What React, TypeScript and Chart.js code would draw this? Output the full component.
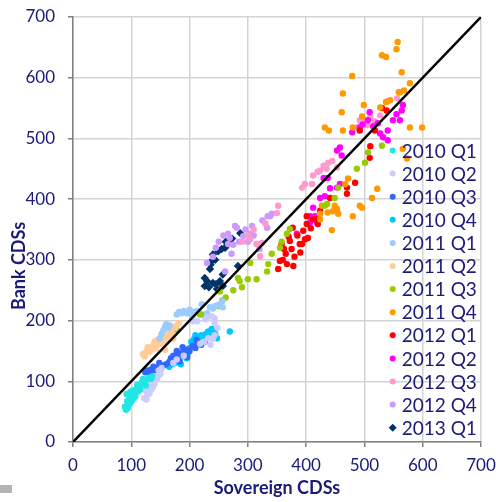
import React, { useEffect, useRef } from "react";
import { Chart, registerables } from "chart.js";

Chart.register(...registerables);

type P = [number, number];

const seriesNames: string[] = [
  "2010 Q1", "2010 Q2", "2010 Q3", "2010 Q4", "2011 Q1", "2011 Q2", "2011 Q3",
  "2011 Q4", "2012 Q1", "2012 Q2", "2012 Q3", "2012 Q4", "2013 Q1",
];

const seriesColors: string[] = [
  "#22e6e6", "#ccccff", "#3366ff", "#00c8ff", "#99ccff", "#ffcc99", "#99cc00",
  "#ff9900", "#ff0000", "#ff00ff", "#ff99cc", "#cc99ff", "#003366",
];

const q2010_1: P[] = [[89,58],[91,53],[94,56],[96,62],[93,67],[98,64],[101,68],[97,74],[100,78],[104,72],[106,80],[103,85],[108,86],[111,83],[113,90],[110,94],[116,92],[118,98],[121,95],[124,100],[120,104],[127,103],[130,106],[134,104],[136,108],[115,86],[107,75],[99,83],[92,79],[125,93]];
const q2010_2: P[] = [[122,72],[126,70],[128,78],[125,84],[131,80],[134,86],[130,92],[137,90],[140,96],[135,98],[144,104],[146,109],[150,112],[147,118],[152,122],[178,136],[172,130],[190,142],[218,162],[225,165],[232,171],[236,160],[240,170],[243,176],[213,199],[227,202],[230,205],[238,207],[243,204],[243,196],[206,199],[248,188]];
const q2010_3: P[] = [[124,115],[128,118],[132,114],[135,120],[140,118],[138,124],[145,122],[150,120],[155,126],[148,130],[160,128],[165,132],[170,130],[168,138],[175,136],[172,142],[180,140],[185,146],[178,150],[190,148],[195,152],[188,156],[200,150],[205,158],[210,155],[215,162],[212,168],[220,160],[226,165],[196,140],[183,133]];
const q2010_4: P[] = [[165,124],[170,128],[168,133],[175,130],[178,138],[182,135],[186,142],[180,146],[190,145],[194,150],[198,148],[200,155],[205,158],[203,165],[208,170],[212,166],[216,172],[220,176],[224,174],[228,178],[232,182],[236,180],[240,184],[244,178],[238,186],[247,171],[269,182],[210,176],[195,138],[185,128]];
const q2011_1: P[] = [[149,171],[152,178],[155,184],[158,190],[160,194],[163,188],[166,192],[178,210],[182,214],[186,212],[190,216],[195,212],[200,218],[204,207],[208,214],[213,216],[221,227],[235,222],[240,220],[244,224],[250,226],[256,232],[257,222],[230,212]];
const q2011_2: P[] = [[120,145],[123,141],[126,150],[130,148],[134,152],[128,156],[137,158],[142,154],[146,160],[150,162],[145,168],[155,166],[160,170],[152,175],[163,176],[166,180],[170,178],[168,186],[175,188],[178,192],[182,196],[172,170],[158,152],[140,165]];
const q2011_3: P[] = [[178,185],[175,188],[218,210],[221,210],[249,224],[256,233],[252,248],[275,250],[283,270],[286,265],[300,268],[315,268],[304,295],[333,281],[335,293],[341,310],[355,320],[358,330],[367,343],[372,351],[432,389],[436,392],[449,402],[455,419],[487,450],[501,460],[506,477],[530,488],[262,238],[290,255]];
const q2011_4: P[] = [[492,389],[480,372],[444,349],[437,378],[446,380],[455,376],[424,367],[424,376],[449,389],[453,384],[496,386],[557,659],[555,647],[530,637],[537,634],[564,609],[578,591],[568,579],[559,576],[539,561],[479,603],[463,574],[461,543],[432,518],[439,513],[463,513],[480,518],[496,536],[499,555],[527,551],[537,560],[544,563],[561,576],[599,518],[578,518],[566,483],[573,467],[522,417],[513,402],[467,425],[472,434],[427,389]];
const q2012_1: P[] = [[352,285],[367,293],[358,326],[372,331],[389,326],[377,353],[401,359],[420,367],[401,372],[412,367],[424,381],[420,359],[398,334],[403,336],[393,326],[530,550],[538,546],[518,513],[492,513],[510,487],[509,468],[484,427],[470,419],[441,402],[470,409],[360,300],[365,310],[375,318],[380,305],[385,340],[395,348],[370,338],[362,318],[390,312],[355,298],[378,290],[408,352]];
const q2012_2: P[] = [[566,555],[564,546],[561,530],[549,530],[540,513],[532,502],[540,497],[527,508],[523,525],[509,543],[506,530],[492,518],[479,510],[458,485],[453,480],[461,472],[437,435],[430,435],[424,402],[453,419],[458,425],[441,418],[432,405],[412,386],[407,372],[415,372],[384,343],[419,361],[407,362],[555,540],[515,520],[497,523]];
const q2012_3: P[] = [[487,518],[495,525],[502,530],[510,535],[518,528],[527,538],[492,530],[505,522],[424,447],[430,455],[438,460],[445,463],[453,452],[435,450],[412,439],[410,425],[393,419],[556,566],[352,389],[350,377],[324,328],[321,306],[304,334],[316,326],[300,340],[310,350],[330,360],[290,330],[398,425],[420,445]];
const q2012_4: P[] = [[338,372],[333,353],[307,356],[304,343],[281,353],[266,343],[266,326],[272,310],[230,295],[261,281],[292,339],[315,326],[320,318],[278,356],[334,372],[341,376],[269,336],[250,330],[245,320],[285,330],[296,350],[310,340],[325,365],[258,340],[240,305],[275,325],[300,330]];
const q2013_1: P[] = [[287,344],[269,331],[261,320],[249,314],[240,309],[238,298],[235,285],[226,270],[226,257],[240,262],[252,265],[257,257],[247,252],[283,290],[257,276],[265,325],[255,318],[244,300],[236,292],[230,265],[233,255],[262,330],[273,335],[245,260]];

const seriesData: P[][] = [
  q2010_1, q2010_2, q2010_3, q2010_4, q2011_1, q2011_2, q2011_3,
  q2011_4, q2012_1, q2012_2, q2012_3, q2012_4, q2013_1,
];

const diagonal: P[] = [[0, 0], [700, 700]];
const tickValues: number[] = [0, 100, 200, 300, 400, 500, 600, 700];
const xTitle = "Sovereign CDSs";
const yTitle = "Bank CDSs";

const TEXT = "#1a1a78";
const FONT = "Lato, 'Open Sans', sans-serif";

const overlayPlugin = {
  id: "overlay",
  afterDraw(chart: any) {
    const ctx = chart.ctx;
    const area = chart.chartArea;
    ctx.save();
    ctx.fillStyle = TEXT;
    ctx.font = `bold 18px ${FONT}`;
    ctx.textAlign = "center";
    ctx.textBaseline = "middle";
    ctx.fillText(xTitle, (area.left + area.right) / 2, 488);
    ctx.save();
    ctx.translate(19, 266);
    ctx.rotate(-Math.PI / 2);
    ctx.fillText(yTitle, 0, 0);
    ctx.restore();
    const mx = 392.7;
    const tx = 401.7;
    const y0 = 150.5;
    const step = 23.1;
    ctx.font = `19px ${FONT}`;
    ctx.textAlign = "left";
    seriesNames.forEach((name, i) => {
      const y = y0 + i * step;
      ctx.fillStyle = seriesColors[i];
      ctx.beginPath();
      if (i === seriesNames.length - 1) {
        ctx.moveTo(mx, y - 4);
        ctx.lineTo(mx + 4, y);
        ctx.lineTo(mx, y + 4);
        ctx.lineTo(mx - 4, y);
        ctx.closePath();
      } else {
        ctx.arc(mx, y, 3, 0, Math.PI * 2);
      }
      ctx.fill();
      ctx.fillStyle = TEXT;
      ctx.fillText(name, tx, y + 1);
    });
    ctx.restore();
  },
};

export default function App() {
  const ref = useRef<HTMLCanvasElement | null>(null);

  useEffect(() => {
    if (!ref.current) return;
    const datasets: any[] = [
      {
        type: "line",
        label: "diag",
        data: diagonal.map(([x, y]) => ({ x, y })),
        borderColor: "#000000",
        borderWidth: 2.5,
        pointRadius: 0,
        fill: false,
        order: 0,
      },
      ...seriesData.map((d, i) => ({
        type: "scatter",
        label: seriesNames[i],
        data: d.map(([x, y]) => ({ x, y })),
        backgroundColor: seriesColors[i],
        borderColor: seriesColors[i],
        borderWidth: 0,
        pointRadius: i === seriesData.length - 1 ? 4.2 : 3.2,
        pointStyle: i === seriesData.length - 1 ? "rectRot" : "circle",
        order: 1,
      })),
    ];
    const tickCfg = {
      color: TEXT,
      font: { family: FONT, size: 17 },
      autoSkip: false,
    };
    const zeroPad = (s: any) => {
      s.paddingLeft = 0;
      s.paddingRight = 0;
      s.paddingTop = 0;
      s.paddingBottom = 0;
    };
    const chart = new Chart(ref.current, {
      type: "scatter",
      data: { datasets },
      plugins: [overlayPlugin],
      options: {
        animation: false,
        responsive: false,
        maintainAspectRatio: false,
        layout: { padding: { top: 17, right: 15, left: 0, bottom: 0 } },
        plugins: { legend: { display: false }, tooltip: { enabled: false } },
        scales: {
          x: {
            type: "linear",
            min: 0,
            max: 700,
            afterBuildTicks: (s: any) => { s.ticks = tickValues.map((v) => ({ value: v })); },
            afterFit: (s: any) => { s.height = 60; zeroPad(s); },
            ticks: { ...tickCfg, padding: 8, maxRotation: 0 },
            grid: { color: "#d4d4d4", lineWidth: 1.5, tickLength: 5, tickColor: "#808080" },
            border: { color: "#808080", width: 1.5 },
          },
          y: {
            type: "linear",
            min: 0,
            max: 700,
            afterBuildTicks: (s: any) => { s.ticks = tickValues.map((v) => ({ value: v })); },
            afterFit: (s: any) => { s.width = 73; zeroPad(s); },
            ticks: { ...tickCfg, padding: 13 },
            grid: { color: "#d4d4d4", lineWidth: 1.5, tickLength: 5, tickColor: "#808080" },
            border: { color: "#808080", width: 1.5 },
          },
        },
      } as any,
    });
    return () => chart.destroy();
  }, []);

  return (
    <div style={{ position: "fixed", left: 0, top: 0, width: 496, height: 502, background: "#fff" }}>
      <canvas ref={ref} width={496} height={502} style={{ display: "block" }} />
      <div style={{ position: "absolute", left: 0, top: 485, width: 12, height: 8, background: "#b4b4b4" }} />
    </div>
  );
}
